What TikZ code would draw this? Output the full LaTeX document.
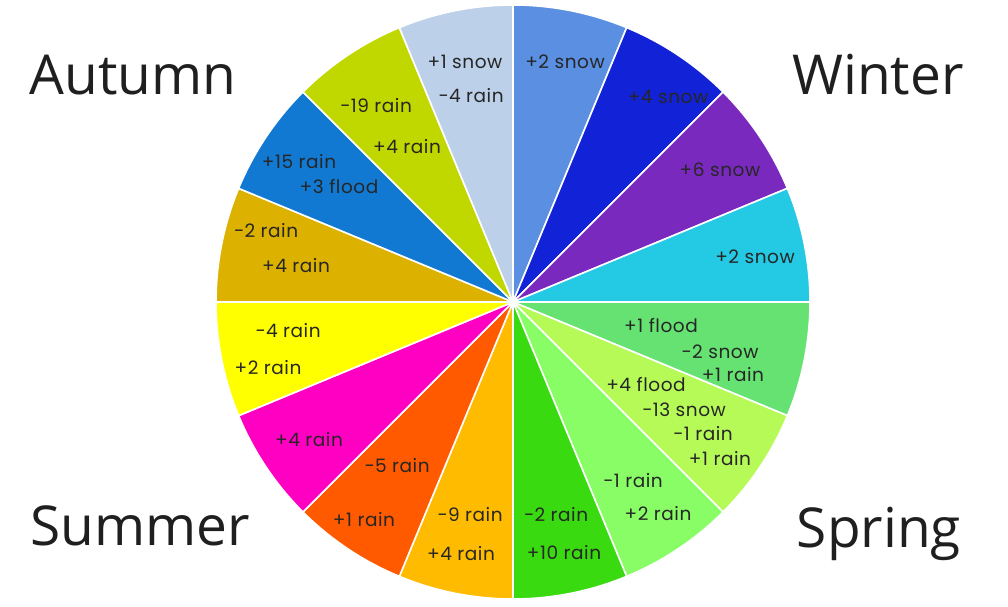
\documentclass[tikz,border=0pt]{standalone}
\usepackage{fontspec}
\setmainfont{Open Sans}
\newfontfamily\tagfont[LetterSpace=3]{Poppins}
\definecolor{wedgeA}{HTML}{5A8FE2}
\definecolor{wedgeB}{HTML}{1222D6}
\definecolor{wedgeC}{HTML}{7A29BE}
\definecolor{wedgeD}{HTML}{24C9E3}
\definecolor{wedgeE}{HTML}{66E272}
\definecolor{wedgeF}{HTML}{B6FA58}
\definecolor{wedgeG}{HTML}{88FD66}
\definecolor{wedgeH}{HTML}{39DB10}
\definecolor{wedgeI}{HTML}{FFBB00}
\definecolor{wedgeJ}{HTML}{FF5A00}
\definecolor{wedgeK}{HTML}{FF00C3}
\definecolor{wedgeL}{HTML}{FFFF00}
\definecolor{wedgeM}{HTML}{DCB100}
\definecolor{wedgeN}{HTML}{1179D2}
\definecolor{wedgeO}{HTML}{C1D700}
\definecolor{wedgeP}{HTML}{BDD0E9}

\begin{document}
\begin{tikzpicture}[x=1pt, y=1pt,
    wedge/.style={draw=white, line width=1.6pt, line join=round},
    tag/.style={font=\tagfont\fontsize{18.5}{18.5}\selectfont, text=black!85, inner sep=0pt},
    season/.style={font=\fontsize{55}{55}\selectfont, text=black!88, anchor=base, inner sep=0pt}]
    \useasboundingbox (0,0) rectangle (1008,606);

    % Wheel of sixteen wedges, clockwise from the top
    \coordinate (hub) at (513,304);
    \foreach \c [count=\i] in {wedgeA,wedgeB,wedgeC,wedgeD,wedgeE,wedgeF,wedgeG,wedgeH,wedgeI,wedgeJ,wedgeK,wedgeL,wedgeM,wedgeN,wedgeO,wedgeP}{
        \pgfmathsetmacro{\sa}{112.5-\i*22.5}
        \pgfmathsetmacro{\sb}{90-\i*22.5}
        \filldraw[wedge, fill=\c] (hub) -- ++(\sa:297) arc[start angle=\sa, end angle=\sb, radius=297] -- cycle;
    }

    % Winter wedges
    \node[tag] (w1a) at (565,544) {+2 snow};
    \node[tag] (w2a) at (668,509) {+4 snow};
    \node[tag] (w3a) at (720,436) {+6 snow};
    \node[tag] (w4a) at (755,349) {+2 snow};

    % Spring wedges
    \node[tag] (s1a) at (661,280) {+1 flood};
    \node[tag] (s1b) at (720,254) {−2 snow};
    \node[tag] (s1c) at (733,231) {+1 rain};
    \node[tag] (s2a) at (646,221) {+4 flood};
    \node[tag] (s2b) at (684,196) {−13 snow};
    \node[tag] (s2c) at (703,172) {−1 rain};
    \node[tag] (s2d) at (720,147) {+1 rain};
    \node[tag] (s3a) at (633,125) {−1 rain};
    \node[tag] (s3b) at (658,92) {+2 rain};
    \node[tag] (s4a) at (556,91) {−2 rain};
    \node[tag] (s4b) at (564,53) {+10 rain};

    % Summer wedges
    \node[tag] (u1a) at (470,91) {−9 rain};
    \node[tag] (u1b) at (461,52) {+4 rain};
    \node[tag] (u2a) at (397,140) {−5 rain};
    \node[tag] (u2b) at (364,86) {+1 rain};
    \node[tag] (u3a) at (309,166) {+4 rain};
    \node[tag] (u4a) at (288,275) {−4 rain};
    \node[tag] (u4b) at (268,238) {+2 rain};

    % Autumn wedges
    \node[tag] (a1a) at (266,375) {−2 rain};
    \node[tag] (a1b) at (296,340) {+4 rain};
    \node[tag] (a2a) at (299,444) {+15 rain};
    \node[tag] (a2b) at (339,419) {+3 flood};
    \node[tag] (a3a) at (376,500) {−19 rain};
    \node[tag] (a3b) at (407,459) {+4 rain};
    \node[tag] (a4a) at (465,544) {+1 snow};
    \node[tag] (a4b) at (471,510) {−4 rain};

    % Season names
    \node[season] (autumn) at (133,511) {Autumn};
    \node[season] (winter) at (878,511) {Winter};
    \node[season] (summer) at (140,61) {Summer};
    \node[season] (spring) at (879,59) {Spring};
\end{tikzpicture}
\end{document}
